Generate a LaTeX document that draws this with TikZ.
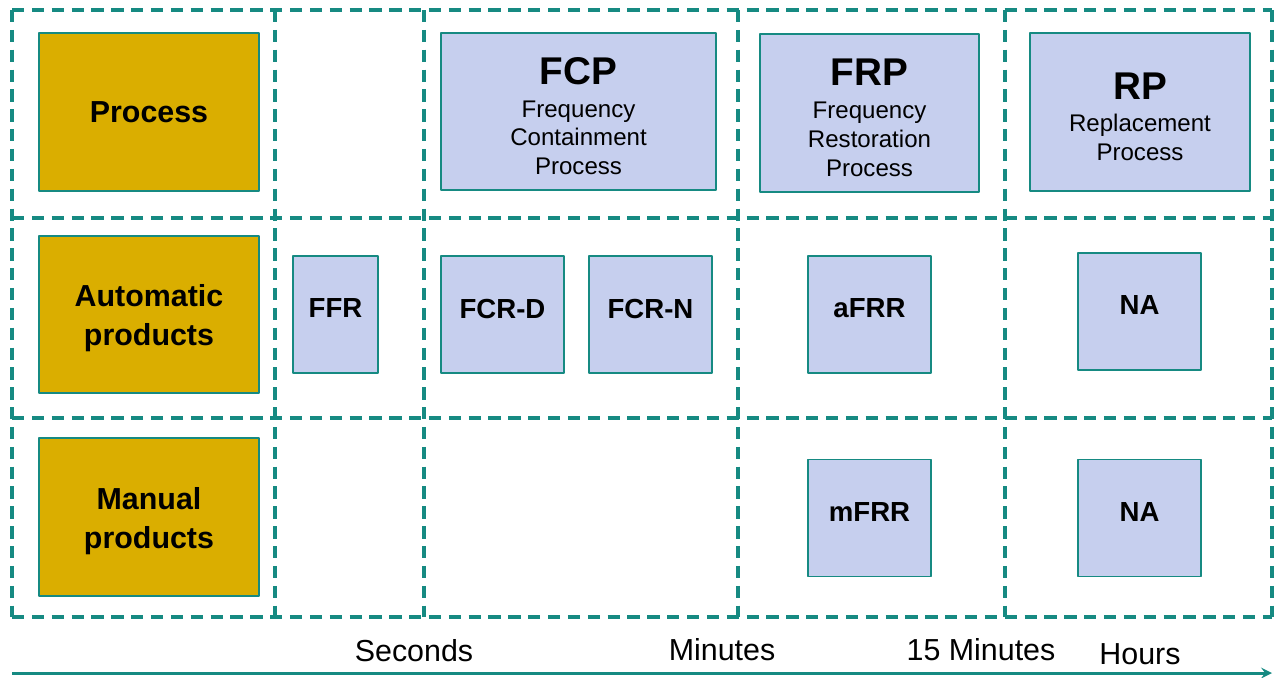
\documentclass[tikz,border=0pt]{standalone}
\usepackage{fontspec}
\setmainfont{Liberation Sans}
\definecolor{gridteal}{RGB}{22,138,130}
\definecolor{boxgold}{RGB}{218,174,0}
\definecolor{boxblue}{RGB}{198,207,238}
\newcommand{\ptitle}[1]{{\fontsize{22}{18}\selectfont\bfseries\rule{0pt}{20.5pt}#1}\\[2.3pt]}
\begin{document}
\begin{tikzpicture}[>=stealth, x=0.02cm, y=-0.02cm, line join=round,
    cell/.style={draw=gridteal, line width=1.1pt, inner sep=0pt, align=center},
    rowhead/.style={cell, fill=boxgold, minimum width=4.4cm, minimum height=3.15cm,
        font=\fontsize{17.3}{22.2}\selectfont\bfseries},
    procbox/.style={cell, fill=boxblue, minimum height=3.15cm,
        font=\fontsize{13.7}{16.4}\selectfont},
    prodbox/.style={cell, fill=boxblue, minimum width=2.46cm, minimum height=2.34cm,
        text depth=0.24cm, font=\fontsize{15.7}{18}\selectfont\bfseries},
    grid/.style={draw=gridteal, line width=1.8pt, dash pattern=on 7pt off 4.3pt},
    tlabel/.style={font=\fontsize{17.3}{20}\selectfont}]
    \useasboundingbox (0,0) rectangle (1275,677);
    \def\xl{12} \def\xr{1272} \def\yt{10} \def\yb{617} % Rahmen
    % Raster
    \foreach \y in {\yt,218,418,\yb} \draw[grid] (\xl,\y) -- (\xr,\y);
    \foreach \x in {\xl,275,424,738,1005,\xr} \draw[grid] (\x,\yt) -- (\x,\yb);
    % Zeilenkoepfe
    \node[rowhead] (process) at (149,112) {Process};
    \node[rowhead] (auto) at (149,314.5) {\rule{0pt}{17pt}Automatic\\products};
    \node[rowhead] (manual) at (149,517) {\rule{0pt}{17pt}Manual\\products};
    % Prozesse
    \node[procbox, minimum width=5.5cm] (fcp) at (578.5,111.5)
        {\ptitle{FCP}Frequency\\Containment\\Process};
    \node[procbox, minimum width=4.38cm] (frp) at (869.5,113)
        {\ptitle{FRP}Frequency\\Restoration\\Process};
    \node[procbox, minimum width=4.4cm] (rp) at (1140,112)
        {\ptitle{RP}Replacement\\Process};
    % Produkte
    \node[prodbox, minimum width=1.7cm] (ffr) at (335.5,314.5) {FFR};
    \node[prodbox] (fcrd) at (502.5,314.5) {FCR-D};
    \node[prodbox] (fcrn) at (650.5,314.5) {FCR-N};
    \node[prodbox] (afrr) at (869.5,314.5) {aFRR};
    \node[prodbox] (naauto) at (1139.5,311.5) {NA};
    \node[prodbox] (mfrr) at (869.5,518) {mFRR};
    \node[prodbox] (naman) at (1139.5,518) {NA};
    % Zeitachse
    \coordinate (t0) at (\xl,673);
    \coordinate (t1) at (\xr,673);
    \draw[->, draw=gridteal, line width=1.7pt] (t0) -- (t1);
    \node[tlabel] (sec) at (414,651) {Seconds};
    \node[tlabel] (min) at (722,650) {Minutes};
    \node[tlabel] (min15) at (981,650) {15 Minutes};
    \node[tlabel] (hours) at (1140,654) {Hours};
\end{tikzpicture}
\end{document}
